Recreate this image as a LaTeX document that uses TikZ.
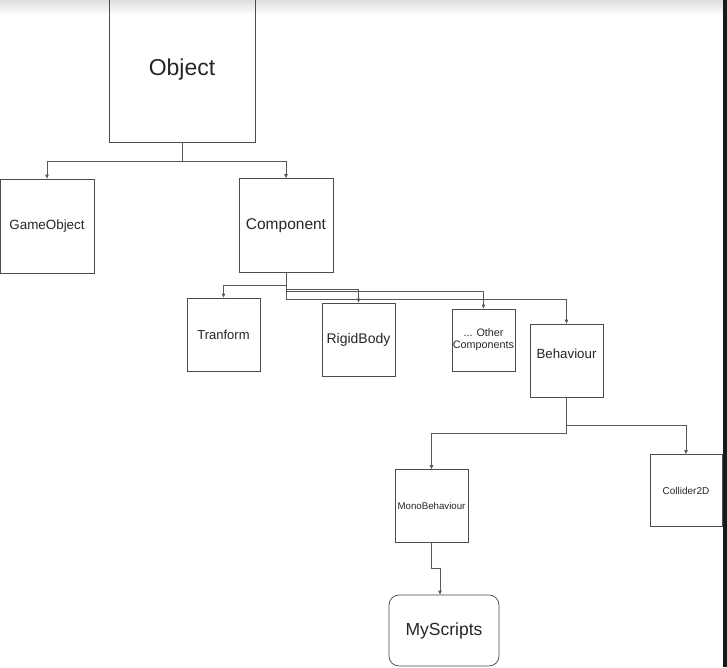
\documentclass[tikz,border=0pt]{standalone}
\usepackage{fontspec}
\setmainfont{Liberation Sans}
\usetikzlibrary{arrows.meta,positioning}
\newcommand{\fs}[1]{\fontsize{#1}{#1}\selectfont}

\begin{document}
\begin{tikzpicture}[x=1pt, y=-1pt,
  cls/.style={draw=black!70, line width=0.75pt, inner sep=0pt, align=center, text=black!85},
  sq/.style={cls, minimum width=#1, minimum height=#1},
  link/.style={draw=black!65, line width=0.75pt, -{Triangle[length=4pt, width=3.4pt]}}]
\useasboundingbox (0,0) rectangle (727,667);
% screenshot frame: shadow on top, dark strip on the right
\shade[top color=black!13, bottom color=white] (0,0) rectangle (723,15);
\fill[black!90] (723,0) rectangle (727,667);
% class boxes
\node[cls, minimum width=146pt, minimum height=144pt, font=\fs{23}] (obj) at (182,70) {Object};
\node[sq=94pt, font=\fs{13.4}] (gobj) at (47,226) {GameObject};
\node[sq=94pt, font=\fs{15.5}] (comp) at (286,225.5) {Component};
\node[sq=73pt, font=\fs{13}] (tran) at (223.5,334.5) {Tranform};
\node[sq=73pt, font=\fs{14}] (rigid) at (358.5,339.5) {RigidBody};
\node[cls, minimum width=63pt, minimum height=62pt, font=\fs{10.8}, align=center] (other) at (483.5,340) {... Other\\[1.5pt]Components};
\node[sq=73pt, font=\fs{13.3}, text height=10pt, text depth=15pt] (behav) at (566.5,360.5) {Behaviour};
\node[sq=73pt, font=\fs{9.7}] (mono) at (431.5,506) {MonoBehaviour};
\node[sq=72pt, font=\fs{10}] (coll) at (686,490.5) {Collider2D};
\node[cls, minimum width=110pt, minimum height=71pt, rounded corners=10pt, font=\fs{17.5}] (scripts) at (444,630.5) {MyScripts};
% inheritance links
\draw[link] (obj.south) -- ++(0,19) -| (gobj.north);
\draw[link] (obj.south) -- ++(0,19) -| (comp.north);
\draw[link] (comp.south) -- ++(0,12) -| (tran.north);
\draw[link] (comp.south) -- ++(0,16) -| (rigid.north);
\draw[link] (comp.south) -- ++(0,18) -| (other.north);
\draw[link] (comp.south) -- ++(0,26) -| (behav.north);
\draw[link] (behav.south) -- ++(0,36) -| (mono.north);
\draw[link] (behav.south) -- ++(0,28) -| (coll.north);
\draw[link] (mono.south) -- ++(0,25) -| ([xshift=-4pt]scripts.north);
\end{tikzpicture}
\end{document}
